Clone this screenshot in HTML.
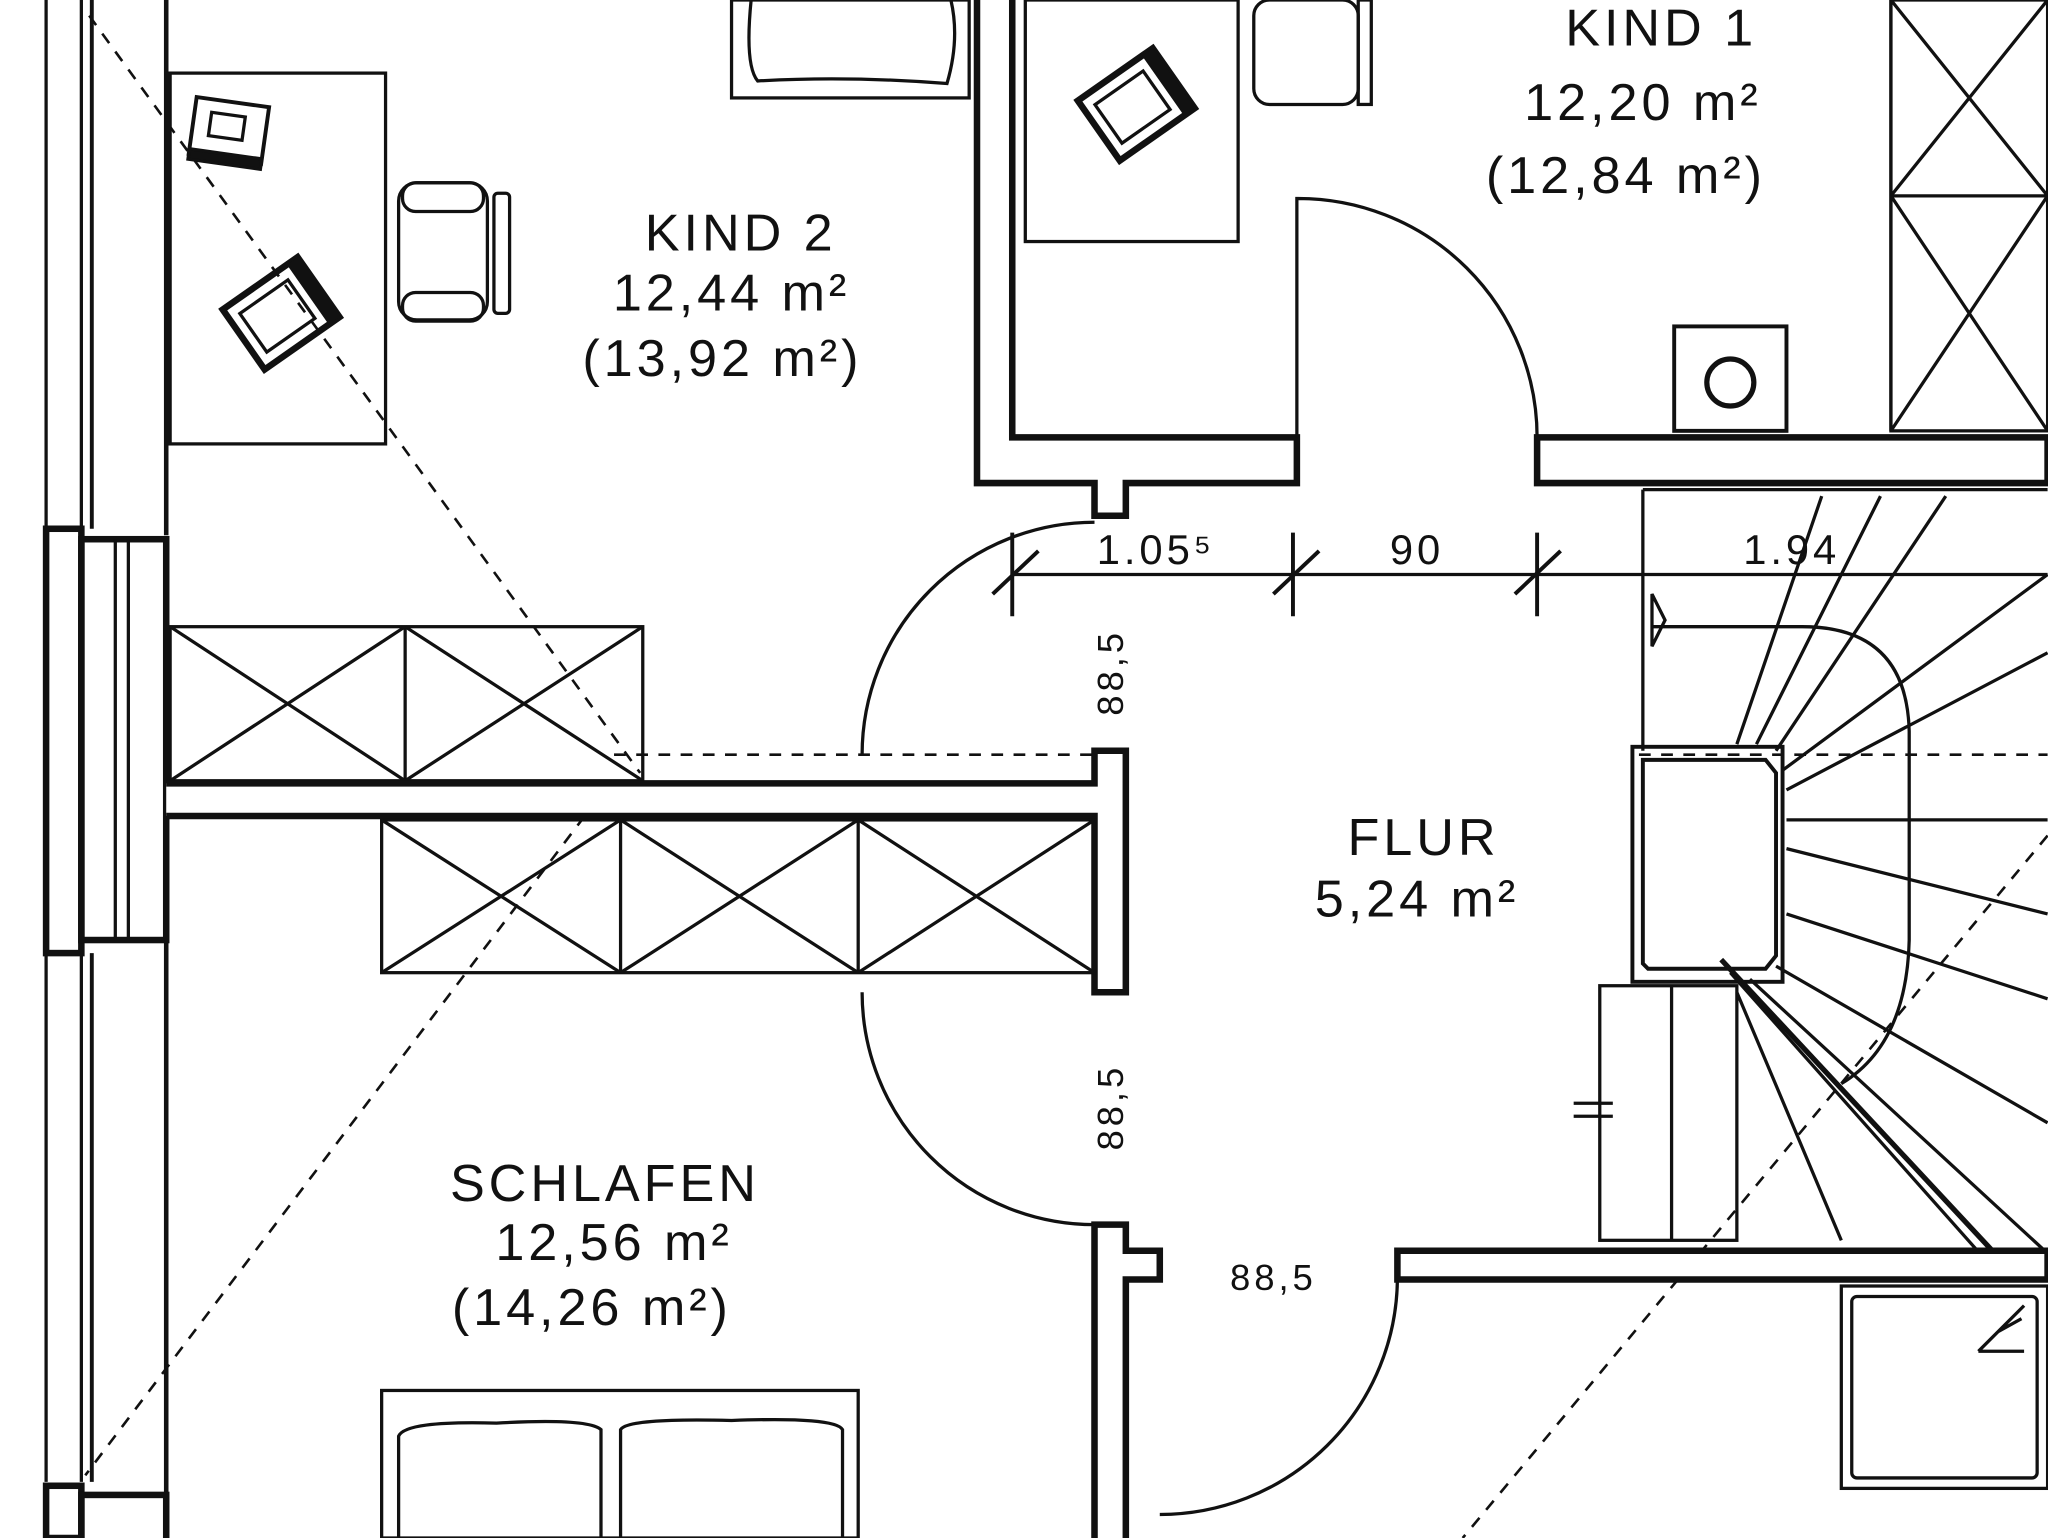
<!DOCTYPE html>
<html><head><meta charset="utf-8"><style>
html,body{margin:0;padding:0;background:#fff;}
svg{display:block}
text{font-family:"Liberation Sans",sans-serif;fill:#111}
</style></head><body>
<svg width="2048" height="1538" viewBox="0 0 1568 1178" xmlns="http://www.w3.org/2000/svg">
<g fill="none" stroke="#111" stroke-width="2.5">
<g stroke-dasharray="9,8" stroke-width="2">
<line x1="68" y1="12" x2="490" y2="592"/>
<line x1="468" y1="598" x2="65" y2="1130"/>
<line x1="470" y1="578" x2="838" y2="578"/>
<line x1="1255" y1="578" x2="1568" y2="578"/>
<line x1="1568" y1="640" x2="1120" y2="1178"/>
</g>
<line x1="35" y1="0" x2="35" y2="405"/>
<line x1="62" y1="0" x2="62" y2="405"/>
<line x1="70" y1="0" x2="70" y2="405" stroke-width="3"/>
<line x1="127" y1="0" x2="127" y2="410" stroke-width="3.5"/>
<line x1="35" y1="730" x2="35" y2="1135"/>
<line x1="62" y1="730" x2="62" y2="1135"/>
<line x1="70" y1="730" x2="70" y2="1135" stroke-width="3"/>
<line x1="127" y1="720" x2="127" y2="1178" stroke-width="3.5"/>
<rect x="35" y="405" width="27" height="325" stroke-width="5"/>
<rect x="62" y="413" width="65" height="307" stroke-width="5"/>
<line x1="88" y1="413" x2="88" y2="720"/>
<line x1="98" y1="413" x2="98" y2="720"/>
<rect x="35" y="1138" width="27" height="40" stroke-width="5"/>
<rect x="62" y="1145" width="65" height="40" stroke-width="5"/>
<rect x="130" y="56" width="165" height="284"/>
<g transform="translate(175,100) rotate(8)"><rect x="-28" y="-22" width="56" height="44" stroke-width="3"/><rect x="-15" y="-12" width="26" height="18"/><rect x="-28" y="18" width="56" height="8" fill="#111"/></g>
<g transform="translate(215,240) rotate(-35)"><rect x="-35" y="-28" width="70" height="56" stroke-width="5"/><rect x="-26" y="-18" width="45" height="36"/><line x1="30" y1="-28" x2="30" y2="28" stroke-width="10"/></g>
<rect x="305" y="140" width="68" height="105" rx="14"/>
<rect x="308" y="140" width="62" height="22" rx="10"/>
<rect x="308" y="224" width="62" height="22" rx="10"/>
<rect x="378" y="148" width="12" height="92" rx="3"/>
<rect x="130" y="480" width="362" height="118"/>
<line x1="310" y1="480" x2="310" y2="598"/>
<path d="M130 480L310 598M310 480L130 598M310 480L492 598M492 480L310 598"/>
<path d="M127 600H838V575H862V760H838V625H127" stroke-width="5" fill="#fff"/>
<rect x="292" y="628" width="546" height="117"/>
<line x1="475" y1="628" x2="475" y2="745"/><line x1="657" y1="628" x2="657" y2="745"/>
<path d="M292 628L475 745M475 628L292 745M475 628L657 745M657 628L475 745M657 628L838 745M838 628L657 745"/>
<path d="M660 578A178 178 0 0 1 838 400"/>
<path d="M660 760A178 178 0 0 0 838 938"/>
<path d="M748 0V370H838V395H862V370H993V335H775V0" stroke-width="5" fill="#fff"/>
<path d="M993 335V152A183 183 0 0 1 1177 335"/>
<path d="M1177 335H1568V370H1177Z" stroke-width="5" fill="#fff"/>
<rect x="785" y="0" width="163" height="185"/>
<g transform="translate(870,80) rotate(-35)"><rect x="-35" y="-28" width="70" height="56" stroke-width="5"/><rect x="-26" y="-18" width="45" height="36"/><line x1="30" y1="-28" x2="30" y2="28" stroke-width="10"/></g>
<rect x="960" y="0" width="80" height="80" rx="12"/>
<rect x="1040" y="0" width="10" height="80"/>
<rect x="560" y="0" width="182" height="75"/>
<path d="M575 0 Q570 50 580 62 Q650 58 725 64 Q735 30 728 0"/>
<rect x="1448" y="0" width="120" height="330"/>
<path d="M1448 0V330M1448 150H1568M1448 0L1568 150M1568 0L1448 150M1448 150L1568 330M1568 150L1448 330"/>
<rect x="1282" y="250" width="86" height="80" stroke-width="3"/>
<circle cx="1325" cy="293" r="18" stroke-width="4"/>
<line x1="775" y1="440" x2="1568" y2="440"/>
<g stroke-width="3"><line x1="775" y1="408" x2="775" y2="472"/><line x1="990" y1="408" x2="990" y2="472"/><line x1="1177" y1="408" x2="1177" y2="472"/>
<line x1="760" y1="455" x2="795" y2="422"/><line x1="975" y1="455" x2="1010" y2="422"/><line x1="1160" y1="455" x2="1195" y2="422"/></g>
<path d="M1258 375V575M1258 375H1568"/>
<path d="M1265 455V495L1275 475Z"/>
<path d="M1265 480H1380Q1460 480 1462 560V720Q1460 800 1410 830"/>
<rect x="1250" y="572" width="115" height="180" stroke-width="3"/>
<path d="M1258 582H1352L1360 592V732L1352 742H1262L1258 738Z" stroke-width="3"/>
<rect x="1225" y="755" width="105" height="195"/>
<line x1="1280" y1="755" x2="1280" y2="950"/>
<path d="M1330 570L1395 380M1345 570L1440 380M1360 575L1490 380M1365 590L1568 440M1368 605L1568 500M1368 628H1568M1368 650L1568 700M1368 700L1568 765M1360 740L1568 860M1340 750L1568 960M1330 760L1410 950"/>
<line x1="1318" y1="735" x2="1535" y2="968" stroke-width="4"/>
<line x1="1325" y1="745" x2="1525" y2="970"/>
<line x1="1205" y1="845" x2="1235" y2="845"/><line x1="1205" y1="855" x2="1235" y2="855"/>
<path d="M838 1178V938H862V958H888V980H862V1178" stroke-width="5" fill="#fff"/>
<path d="M1070 958H1568V980H1070Z" stroke-width="5" fill="#fff"/>
<path d="M888 1160A182 182 0 0 0 1070 980"/>
<rect x="1410" y="985" width="158" height="155"/>
<rect x="1418" y="993" width="142" height="139" rx="4"/>
<path d="M1515 1035L1550 1000M1515 1035H1550M1530 1020L1548 1010"/>
<rect x="292" y="1065" width="365" height="113"/>
<path d="M305 1178V1100Q310 1088 380 1090Q450 1086 460 1095V1178M475 1178V1095Q480 1086 560 1088Q640 1085 645 1095V1178"/>
</g>
<g font-size="40" text-anchor="middle" letter-spacing="3">
<text x="567" y="192">KIND 2</text>
<text x="560" y="238">12,44 m²</text>
<text x="553" y="288">(13,92 m²)</text>
<text x="1272" y="35">KIND 1</text>
<text x="1258" y="92">12,20 m²</text>
<text x="1245" y="148">(12,84 m²)</text>
<text x="1090" y="655">FLUR</text>
<text x="1085" y="702">5,24 m²</text>
<text x="463" y="920">SCHLAFEN</text>
<text x="470" y="965">12,56 m²</text>
<text x="453" y="1015">(14,26 m²)</text>
</g>
<g font-size="32" text-anchor="middle" letter-spacing="3">
<text x="885" y="432">1.05⁵</text>
<text x="1085" y="432">90</text>
<text x="1372" y="432">1.94</text>
<text x="975" y="988" font-size="28">88,5</text>
<text transform="translate(860,515) rotate(-90)" font-size="28">88,5</text>
<text transform="translate(860,848) rotate(-90)" font-size="28">88,5</text>
</g>
</svg>
</body></html>
